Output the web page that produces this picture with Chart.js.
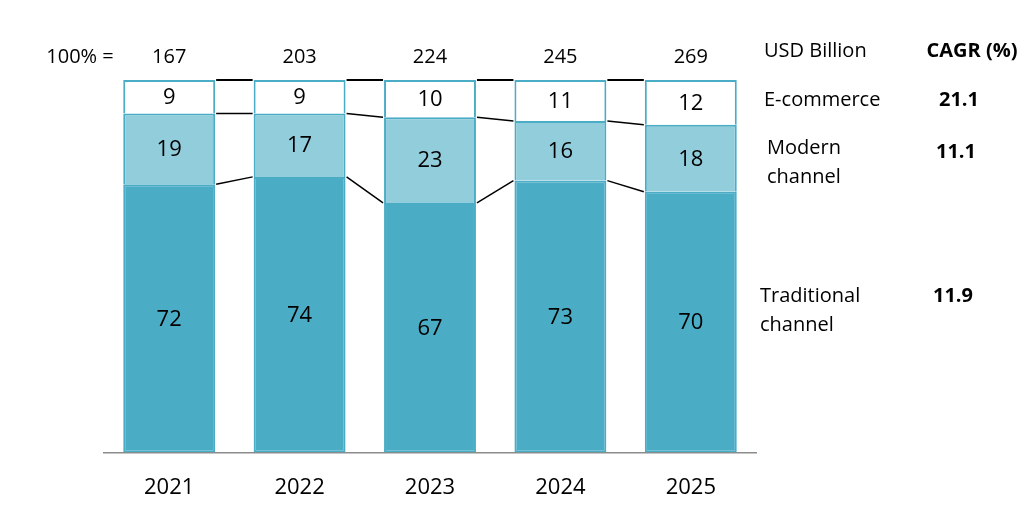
<!DOCTYPE html>
<html>
<head>
  <meta charset="utf-8">
  <title>Market by channel</title>
  <script src="https://cdn.jsdelivr.net/npm/chart.js@4.4.1/dist/chart.umd.min.js"></script>
  <style>
  body { margin: 0; background: #fff; }
  #wrap { width: 1029px; height: 524px; position: relative; }
  </style>
</head>
<body>
<div id="wrap"><canvas id="myChart"></canvas></div>
<script>

var years = ["2021", "2022", "2023", "2024", "2025"];
var totals = [167, 203, 224, 245, 269];
var traditional = [72, 74, 67, 73, 70];
var modern = [19, 17, 23, 16, 18];
var ecommerce = [9, 9, 10, 11, 12];
var channelNames = [["E-commerce"], ["Modern", "channel"], ["Traditional", "channel"]];
var cagr = ["21.1", "11.1", "11.9"];

var teal = '#4BACC6';
var lightTeal = '#92CDDC';
var font = "'Open Sans', sans-serif";

// labels, connector lines and side notes
var extras = {
  id: 'extras',
  afterDatasetsDraw: function(chart) {
    var ctx = chart.ctx;
    var metas = [chart.getDatasetMeta(0), chart.getDatasetMeta(1), chart.getDatasetMeta(2)];

    // connectors between bars
    ctx.save();
    ctx.strokeStyle = '#000';
    for (var i = 0; i < years.length - 1; i++) {
      for (var d = 0; d < 3; d++) {
        var a = metas[d].data[i], b = metas[d].data[i + 1];
        ctx.lineWidth = d == 2 ? 2 : 1.5;
        ctx.beginPath();
        ctx.moveTo(a.x + a.width / 2 + 1, a.y);
        ctx.lineTo(b.x - b.width / 2 - 1, b.y);
        ctx.stroke();
      }
    }
    ctx.restore();

    // segment values
    ctx.save();
    ctx.fillStyle = '#000';
    ctx.font = '22px ' + font;
    ctx.textAlign = 'center';
    ctx.textBaseline = 'middle';
    for (var d2 = 0; d2 < 3; d2++) {
      var ds = chart.data.datasets[d2];
      metas[d2].data.forEach(function(el, k) {
        ctx.fillText(ds.data[k], el.x, (el.y + el.base) / 2 + 1);
      });
    }

    // totals
    ctx.font = '20px ' + font;
    metas[0].data.forEach(function(el, k) {
      ctx.fillText(totals[k], el.x, 57);
    });
    ctx.fillText('100% =', 80, 57);

    // side notes
    ctx.textAlign = 'left';
    ctx.fillText('USD Billion', 764, 51);
    ctx.fillText(channelNames[0][0], 764, 100);
    ctx.fillText(channelNames[1][0], 767, 148);
    ctx.fillText(channelNames[1][1], 767, 177);
    ctx.fillText(channelNames[2][0], 760, 296);
    ctx.fillText(channelNames[2][1], 760, 325);

    ctx.font = 'bold 20px ' + font;
    ctx.textAlign = 'center';
    ctx.fillText('CAGR (%)', 972, 51);
    ctx.fillText(cagr[0], 959, 100);
    ctx.fillText(cagr[1], 956, 152);
    ctx.fillText(cagr[2], 953, 296);
    ctx.restore();
  }
};

var ctx = document.getElementById("myChart").getContext('2d');
var myChart = new Chart(ctx, {
  type: 'bar',
  data: {
    labels: years,
    datasets: [{
      label: 'Traditional channel',
      data: traditional,
      backgroundColor: teal,
      borderColor: teal,
      borderWidth: 2,
      borderSkipped: false
    }, {
      label: 'Modern channel',
      data: modern,
      backgroundColor: lightTeal,
      borderColor: teal,
      borderWidth: 2,
      borderSkipped: 'start'
    }, {
      label: 'E-commerce',
      data: ecommerce,
      backgroundColor: '#fff',
      borderColor: teal,
      borderWidth: 2,
      borderSkipped: 'start'
    }] //datasets
  }, //data
  options: {
    responsive: true,
    maintainAspectRatio: false,
    animation: false,
    layout: { padding: { left: 104, right: 273, top: 80, bottom: 1 } },
    datasets: { bar: { categoryPercentage: 1, barPercentage: 0.705 } },
    plugins: {
      legend: { display: false },
      title: { display: false },
      tooltip: { enabled: false }
    },
    scales: {
      x: {
        stacked: true,
        grid: { display: false, drawTicks: false },
        border: { display: true, color: '#8c8c8c', width: 1.5 },
        ticks: { color: '#000', font: { family: font, size: 22 }, padding: 22 }
      },
      y: {
        stacked: true,
        display: false,
        min: 0,
        max: 100
      }
    }
  },
  plugins: [extras]
});

</script>
</body>
</html>
